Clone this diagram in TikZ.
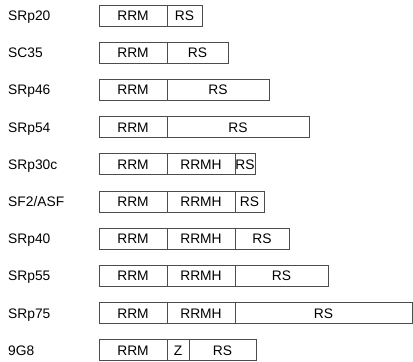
\documentclass[tikz,border=0pt]{standalone}
\usepackage{fontspec}
\setmainfont{Liberation Sans}
\tikzset{
  dom/.style={draw=black!70, line width=0.8pt, minimum height=21pt, inner sep=0pt,
    outer sep=0pt, anchor=west, text height=9.9pt, text depth=0pt,
    font=\fontsize{13.8}{16}\selectfont},
  prot/.style={anchor=west, inner sep=0pt, text height=9.9pt, text depth=0pt,
    font=\fontsize{13.8}{16}\selectfont}
}
\begin{document}
\begin{tikzpicture}[x=1pt,y=-1pt]
\useasboundingbox (0,0) rectangle (413,362);
% SRp20
\node[prot] (srp20) at (8,15.5) {SRp20};
\node[dom,minimum width=68pt] (srp20rrm) at (99,15.5) {RRM};
\node[dom,minimum width=35pt] (srp20rs) at (srp20rrm.east) {RS};
% SC35
\node[prot] (sc35) at (8,52.7) {SC35};
\node[dom,minimum width=68pt] (sc35rrm) at (99,52.7) {RRM};
\node[dom,minimum width=61pt] (sc35rs) at (sc35rrm.east) {RS};
% SRp46
\node[prot] (srp46) at (8,89.9) {SRp46};
\node[dom,minimum width=68pt] (srp46rrm) at (99,89.9) {RRM};
\node[dom,minimum width=102pt] (srp46rs) at (srp46rrm.east) {RS};
% SRp54
\node[prot] (srp54) at (8,127.1) {SRp54};
\node[dom,minimum width=68pt] (srp54rrm) at (99,127.1) {RRM};
\node[dom,minimum width=142pt] (srp54rs) at (srp54rrm.east) {RS};
% SRp30c
\node[prot] (srp30c) at (8,164.3) {SRp30c};
\node[dom,minimum width=68pt] (srp30crrm) at (99,164.3) {RRM};
\node[dom,minimum width=68pt] (srp30crrmh) at (srp30crrm.east) {RRMH};
\node[dom,minimum width=20pt] (srp30crs) at (srp30crrmh.east) {RS};
% SF2/ASF
\node[prot] (sf2) at (8,201.5) {SF2/ASF};
\node[dom,minimum width=68pt] (sf2rrm) at (99,201.5) {RRM};
\node[dom,minimum width=68pt] (sf2rrmh) at (sf2rrm.east) {RRMH};
\node[dom,minimum width=29pt] (sf2rs) at (sf2rrmh.east) {RS};
% SRp40
\node[prot] (srp40) at (8,238.7) {SRp40};
\node[dom,minimum width=68pt] (srp40rrm) at (99,238.7) {RRM};
\node[dom,minimum width=68pt] (srp40rrmh) at (srp40rrm.east) {RRMH};
\node[dom,minimum width=54pt] (srp40rs) at (srp40rrmh.east) {RS};
% SRp55
\node[prot] (srp55) at (8,275.9) {SRp55};
\node[dom,minimum width=68pt] (srp55rrm) at (99,275.9) {RRM};
\node[dom,minimum width=68pt] (srp55rrmh) at (srp55rrm.east) {RRMH};
\node[dom,minimum width=93pt] (srp55rs) at (srp55rrmh.east) {RS};
% SRp75
\node[prot] (srp75) at (8,313.1) {SRp75};
\node[dom,minimum width=68pt] (srp75rrm) at (99,313.1) {RRM};
\node[dom,minimum width=68pt] (srp75rrmh) at (srp75rrm.east) {RRMH};
\node[dom,minimum width=177pt] (srp75rs) at (srp75rrmh.east) {RS};
% 9G8
\node[prot] (g8) at (8,350.3) {9G8};
\node[dom,minimum width=68pt] (g8rrm) at (99,350.3) {RRM};
\node[dom,minimum width=22pt] (g8z) at (g8rrm.east) {Z};
\node[dom,minimum width=67pt] (g8rs) at (g8z.east) {RS};
\end{tikzpicture}
\end{document}
